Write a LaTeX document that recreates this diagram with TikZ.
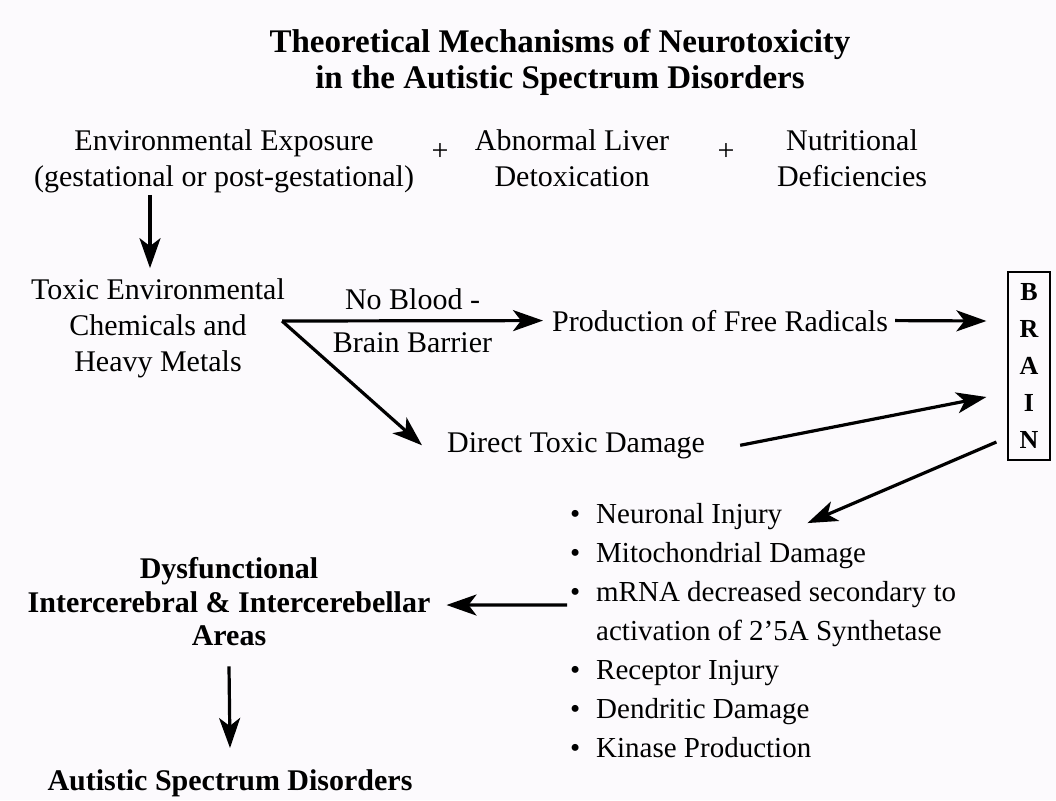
\documentclass[tikz,border=0pt]{standalone}
\usepackage{fontspec}
\setmainfont{Liberation Serif}
\usetikzlibrary{arrows.meta}

\definecolor{paper}{HTML}{FCFAFD}

\tikzset{
	lbl/.style={font=\fontsize{30}{36}\selectfont, align=center, inner sep=0pt},
	hdl/.style={font=\fontsize{30}{33.5}\selectfont\bfseries, align=center, inner sep=0pt},
	itm/.style={font=\fontsize{29}{35}\selectfont, anchor=base west, inner sep=0pt},
	flow/.style={line width=3.2pt, -{Stealth[length=30pt,width=21pt,inset=8pt]}},
}

\newcommand{\bul}{\llap{\textbullet\hspace{16pt}}}

\begin{document}
\begin{tikzpicture}[x=1pt,y=-1pt]
	
	\fill[paper] (0,0) rectangle (1056,800);
	\useasboundingbox (0,0) rectangle (1056,800);
	
	% title
	\node[font=\fontsize{33}{36}\selectfont\bfseries, align=center, inner sep=0pt] (title) at (560,62)
	{Theoretical Mechanisms of Neurotoxicity\\in the Autistic Spectrum Disorders};
	
	% causes
	\node[lbl] (env) at (224,161) {Environmental Exposure\\(gestational or post-gestational)};
	\node[lbl] (plusa) at (440,152) {+};
	\node[lbl] (liver) at (572,158) {Abnormal Liver\\Detoxication};
	\node[lbl] (plusb) at (726,152) {+};
	\node[lbl] (nutr) at (852,158) {Nutritional\\Deficiencies};
	
	\node[lbl] (toxic) at (158,328) {Toxic Environmental\\Chemicals and\\Heavy Metals};
	\coordinate (split) at (282,321);
	
	\node[lbl, anchor=base west] (frad) at (552,331) {Production of Free Radicals};
	\node[lbl, anchor=base west] (dtd) at (447,452) {Direct Toxic Damage};
	
	\node[draw, line width=1.2pt, font=\fontsize{26}{37}\selectfont\bfseries, align=center,
	minimum width=42pt, inner xsep=0pt, inner ysep=11.5pt] (brain) at (1029,366)
	{B\\R\\A\\I\\N};
	
	% effects
	\node[itm] (n1) at (596,523) {\bul Neuronal Injury};
	\node[itm] (n2) at (596,562) {\bul Mitochondrial Damage};
	\node[itm] (n3) at (596,601) {\bul mRNA decreased secondary to};
	\node[itm] (n4) at (596,640) {activation of 2'5A Synthetase};
	\node[itm] (n5) at (596,679) {\bul Receptor Injury};
	\node[itm] (n6) at (596,718) {\bul Dendritic Damage};
	\node[itm] (n7) at (596,757) {\bul Kinase Production};
	
	\node[hdl] (dys) at (229,602) {Dysfunctional\\Intercerebral \& Intercerebellar\\Areas};
	\node[hdl, anchor=base] (asd) at (230,790) {Autistic Spectrum Disorders};
	
	% arrows
	\draw[flow] ([xshift=-74pt,yshift=-2pt]env.south) -- ([xshift=-8pt,yshift=10pt]toxic.north);
	\draw[flow] (split) -- ([xshift=-9pt]frad.west)
	node[lbl, midway, above=9pt] (nob) {No Blood -}
	node[lbl, midway, below=10pt] (bbb) {Brain Barrier};
	\draw[flow] (split) -- ([xshift=-25pt]dtd.west);
	\draw[flow] ([xshift=7pt]frad.east) -- ([xshift=-21pt,yshift=45pt]brain.west);
	\draw[flow] ([xshift=35pt]dtd.east) -- ([xshift=-21pt,yshift=-31pt]brain.west);
	\draw[flow] ([xshift=-11pt,yshift=-76pt]brain.west) -- ([xshift=25pt,yshift=-7pt]n1.east);
	\draw[flow] ([xshift=-29pt,yshift=-11pt]n3.west) -- ([xshift=16pt,yshift=-3pt]dys.east);
	\draw[flow] ([yshift=-20pt]dys.south) -- ([yshift=21pt]asd.north);
	
\end{tikzpicture}
\end{document}
